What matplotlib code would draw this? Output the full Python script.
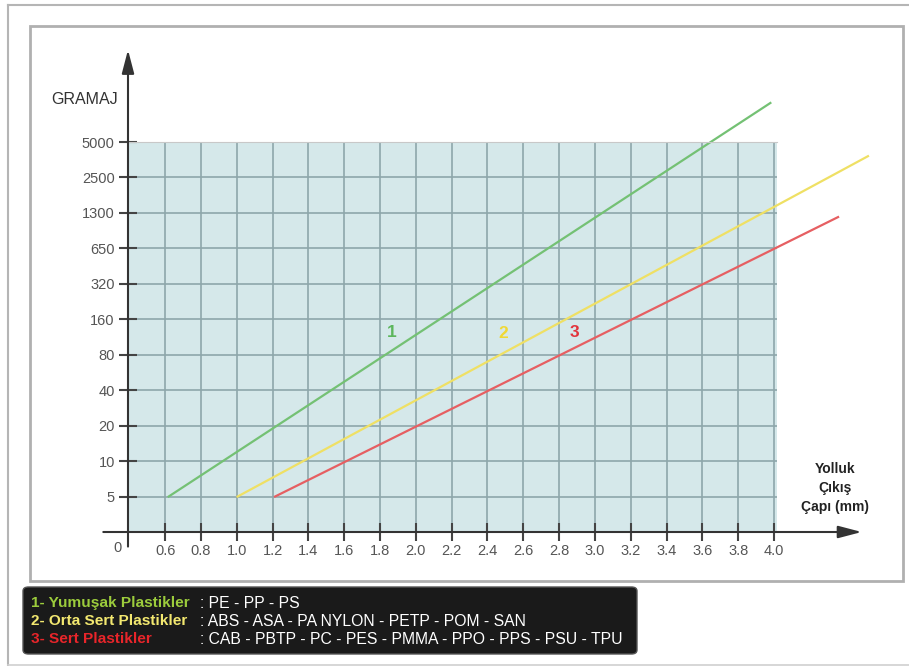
import numpy as np
import matplotlib.pyplot as plt
from matplotlib.patches import Rectangle, FancyBboxPatch

plt.rcParams['font.family'] = ['Liberation Sans', 'DejaVu Sans']

# data
x_ticks = [0.6, 0.8, 1.0, 1.2, 1.4, 1.6, 1.8, 2.0, 2.2, 2.4, 2.6, 2.8,
           3.0, 3.2, 3.4, 3.6, 3.8, 4.0]
y_tick_values = [5, 10, 20, 40, 80, 160, 320, 640, 1280, 2560, 5120]
y_tick_labels = ['5', '10', '20', '40', '80', '160', '320', '650', '1300', '2500', '5000']

# line endpoints (diameter mm, gramaj)
soft_x = [0.62, 3.98]
soft_y = [5, 10980]
medium_x = [1.005, 4.525]
medium_y = [5, 3880]
hard_x = [1.214, 4.358]
hard_y = [5, 1180]

label_x = [1.867, 2.487, 2.887]
label_y = [124, 121, 124]
label_txt = ['1', '2', '3']

legend_names = ['1- Yumuşak Plastikler', '2- Orta Sert Plastikler', '3- Sert Plastikler']
legend_items = ['PE - PP - PS',
                'ABS - ASA - PA NYLON - PETP - POM - SAN',
                'CAB - PBTP - PC - PES - PMMA - PPO - PPS - PSU - TPU']

GREEN = '#74c174'
YELLOW = '#efe064'
RED = '#e65f62'

W, H = 909, 666
fig = plt.figure(figsize=(W / 100, H / 100), dpi=100)


def box(x, y, w, h):
    # pixel box (top-left origin) -> figure fraction
    return x / W, 1 - (y + h) / H, w / W, h / H


# outer + inner frames
fig.add_artist(plt.Line2D([8 / W, 1], [1 - 5 / H, 1 - 5 / H], color='#b5b5b5', lw=1.5))
fig.add_artist(plt.Line2D([8 / W, 8 / W], [1 - 5 / H, 1 - 665 / H], color='#b5b5b5', lw=1.5))
fig.add_artist(plt.Line2D([8 / W, 1], [1 - 665 / H, 1 - 665 / H], color='#d0d0d0', lw=1.2))
bx = box(30, 26, 873, 555)
fig.add_artist(Rectangle(bx[:2], bx[2], bx[3], transform=fig.transFigure,
                         fill=False, ec='#b0b0b0', lw=2))

# chart axes: grid area from x=128..777 px, y=142..532 px
ax = fig.add_axes(box(128, 142, 649, 390))
ax.set_facecolor('#d5e8ea')
ax.set_yscale('log', base=2)
ax.set_xlim(0.393, 4.017)
ax.set_ylim(2.5, 5120)
for s in ax.spines.values():
    s.set_visible(False)
ax.spines['top'].set_visible(True)
ax.spines['top'].set_color('#c8c8c8')

ax.set_xticks(x_ticks)
ax.set_xticklabels([f'{v:.1f}' for v in x_ticks])
ax.set_yticks(y_tick_values)
ax.set_yticklabels(y_tick_labels)
ax.minorticks_off()
ax.tick_params(axis='both', direction='inout', length=13, width=1.5, color='#444444',
               labelcolor='#555555', labelsize=10.5)
ax.tick_params(axis='x', pad=2)
ax.tick_params(axis='y', pad=3)
ax.grid(True, color='#8ea7ab', lw=1.2)
ax.set_axisbelow(True)

# axes with arrows
arrow = dict(arrowstyle='-|>,head_length=0.65,head_width=0.17', color='#333333',
             lw=1.5, mutation_scale=22, shrinkA=0, shrinkB=0)
ax.annotate('', xy=(0.393, 31000), xytext=(0.393, 1.88), annotation_clip=False,
            arrowprops=arrow)
ax.annotate('', xy=(4.49, 2.5), xytext=(0.255, 2.5), annotation_clip=False,
            arrowprops=arrow)

# plastic lines
ax.plot(soft_x, soft_y, color=GREEN, lw=1.6, clip_on=False)
ax.plot(medium_x, medium_y, color=YELLOW, lw=1.6, clip_on=False)
ax.plot(hard_x, hard_y, color=RED, lw=1.6, clip_on=False)
for x, y, t, c in zip(label_x, label_y, label_txt, ['#5cb65c', '#f0d835', '#e2343c']):
    ax.text(x, y, t, color=c, fontsize=12.5, fontweight='bold', ha='center', va='center')

# axis texts
fig.text(118 / W, 1 - 548 / H, '0', ha='center', va='center', fontsize=10.5, color='#555555')
fig.text(85 / W, 1 - 100 / H, 'GRAMAJ', ha='center', va='center', fontsize=11.5, color='#333333')
fig.text(835 / W, 1 - 488 / H, 'Yolluk\nÇıkış\nÇapı (mm)', ha='center', va='center',
         fontsize=10, fontweight='bold', color='#222222', linespacing=1.45)

# legend box
lb = box(23, 587, 614, 67)
fig.add_artist(FancyBboxPatch(lb[:2], lb[2], lb[3], transform=fig.transFigure,
                              boxstyle='round,pad=0,rounding_size=0.006',
                              fc='#1a1a1a', ec='#555555', lw=1))
legend_colors = ['#9ccc3c', '#f3e870', '#e8252a']
for i, (name, items, c) in enumerate(zip(legend_names, legend_items, legend_colors)):
    yy = 1 - (603 + i * 18) / H
    fig.text(31 / W, yy, name, color=c, fontsize=11.1, fontweight='bold', va='center')
    fig.text(200 / W, yy, ': ' + items, color='white', fontsize=11.3, va='center')

fig.savefig('out.png', dpi=100)
